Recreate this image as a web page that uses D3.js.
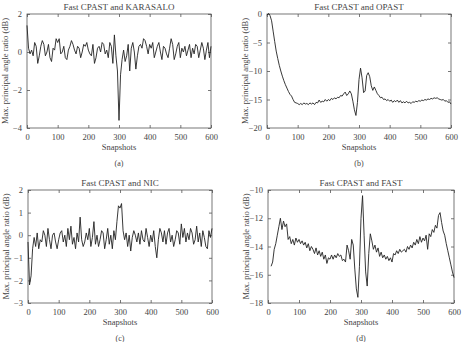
<!DOCTYPE html>
<html>
<head>
<meta charset="utf-8">
<script src="https://cdn.jsdelivr.net/npm/d3@7"></script>
<style>
  body { margin: 0; background: #fff; }
  svg { display: block; font-family: "Liberation Serif", "DejaVu Serif", serif; }
</style>
</head>
<body>
<svg width="462" height="342"></svg>
<script>
// Snapshot values, every 5 snapshots
const karasalo = [1.4,0.2,-0.1,0.1,-0.2,0.5,0.3,-0.6,-0.2,0.3,0.6,0.4,-0.2,0.0,0.4,-0.3,-0.5,0.2,0.1,0.7,
  0.5,0.7,-0.1,0.0,0.3,-0.3,-0.4,0.1,0.3,0.6,0.4,0.1,-0.1,0.3,0.2,-0.3,0.0,0.4,0.3,0.5,
  0.1,-0.1,-0.2,0.4,-0.6,-0.3,0.2,0.3,0.0,0.5,0.4,-0.1,0.1,-0.3,0.5,0.3,-0.6,0.9,-0.2,-1.0,
  -3.6,-1.2,-0.4,0.1,-0.5,-0.2,0.4,-1.0,0.2,0.5,0.0,-0.9,-0.2,0.3,0.4,0.2,0.7,0.6,0.3,-0.1,
  0.4,0.2,0.5,-0.3,0.0,0.3,0.5,0.0,-0.4,0.3,0.2,-0.1,-0.3,0.2,0.7,0.4,-0.4,-0.1,0.3,0.5,
  -0.3,0.2,0.0,0.3,-0.2,0.1,0.4,-0.3,0.2,-0.1,0.4,0.3,-0.3,0.1,0.5,0.2,-0.4,0.1,0.5,-0.3,0.3];

const opast = [-0.2,0.1,-0.3,-1.2,-3.0,-4.8,-6.5,-7.8,-9.0,-10.0,-10.9,-11.7,-12.4,-13.0,-13.6,-14.1,-14.4,-15.0,-15.5,-15.6,
  -15.7,-15.9,-15.7,-15.9,-15.6,-15.8,-15.7,-15.9,-15.6,-15.8,-15.6,-15.9,-15.5,-15.6,-15.1,-15.5,-15.3,-15.4,-15.0,-15.3,
  -15.0,-15.2,-14.8,-15.0,-14.7,-14.9,-14.6,-14.7,-14.3,-14.4,-14.0,-13.7,-14.3,-14.0,-13.5,-14.0,-15.3,-16.8,-17.8,-15.5,
  -11.5,-9.5,-11.2,-13.8,-13.5,-10.8,-10.3,-11.0,-12.6,-13.4,-12.8,-13.4,-14.0,-14.3,-14.7,-14.6,-15.0,-14.9,-15.2,-15.0,
  -15.3,-15.1,-15.5,-15.2,-15.4,-15.1,-15.5,-15.2,-15.6,-15.4,-15.6,-15.3,-15.6,-15.5,-15.7,-15.4,-15.5,-15.3,-15.4,-15.2,
  -15.3,-15.1,-15.2,-15.0,-15.1,-14.9,-15.0,-14.8,-14.9,-14.7,-14.8,-14.7,-14.9,-15.0,-15.1,-15.0,-15.3,-15.2,-15.5,-15.4,-15.8];

const nic = [-0.3,-2.2,-1.8,-0.6,-0.1,-0.5,0.1,-0.6,-0.2,-0.3,0.2,0.0,-0.5,0.3,-0.2,-0.6,0.0,0.1,-0.3,-0.6,
  -0.2,0.1,0.2,-0.3,0.0,-0.5,0.3,-0.2,0.4,-0.4,-0.1,-0.6,0.1,-0.3,0.8,-0.2,-0.5,-0.3,0.1,-0.2,
  0.3,-0.5,-0.1,0.6,-0.4,0.0,-0.5,-0.2,0.2,0.1,-0.6,-0.2,0.3,-0.4,0.0,-0.6,0.2,-0.2,0.6,1.3,
  1.2,1.4,0.2,-0.2,0.1,-0.5,0.0,-0.7,-0.1,0.2,0.0,-0.3,0.1,-0.4,0.2,-0.2,-0.3,0.3,-0.1,-0.5,
  0.0,-0.3,0.2,-0.5,-1.0,-0.2,0.3,0.1,-0.3,0.2,-0.4,0.1,0.3,-0.3,0.0,-0.5,-0.2,0.2,0.1,-0.4,
  0.5,-0.1,0.3,-0.3,0.1,-0.2,0.3,0.1,-0.4,-0.2,0.4,-0.3,0.1,-0.5,0.2,-0.1,-0.5,-0.6,0.2,-0.1,0.3];

// FAST curve starts at snapshot 10
const fast = [-15.4,-15.1,-14.2,-13.8,-13.2,-12.6,-12.0,-12.8,-12.2,-12.6,-12.4,-13.5,-13.3,-13.8,-13.5,-13.9,-13.4,-13.7,
  -13.5,-13.8,-13.6,-13.9,-13.7,-14.1,-13.8,-14.3,-14.0,-14.2,-14.5,-14.1,-14.6,-14.3,-14.7,-14.4,-14.9,-14.6,-15.2,-14.8,
  -14.9,-14.6,-14.9,-14.6,-14.8,-14.5,-14.7,-14.6,-15.0,-14.9,-15.1,-13.9,-14.3,-14.9,-13.5,-13.9,-15.6,-17.0,-17.6,-15.4,
  -12.0,-10.4,-13.2,-15.8,-16.8,-14.5,-13.1,-13.6,-14.2,-13.9,-14.4,-14.1,-14.7,-14.4,-14.8,-14.6,-14.9,-14.7,-15.0,-14.8,
  -15.1,-14.5,-14.6,-14.3,-14.5,-14.2,-14.4,-14.3,-14.2,-14.4,-14.0,-14.2,-13.9,-14.1,-13.7,-13.9,-13.5,-13.8,-13.3,-13.7,
  -13.4,-13.6,-13.2,-14.2,-13.1,-13.3,-12.8,-13.0,-12.5,-12.7,-11.8,-11.6,-12.3,-12.9,-13.2,-13.8,-14.3,-14.8,-15.3,-15.8,-16.2];

const panels = [
  { title: "Fast CPAST and KARASALO", tag: "(a)", values: karasalo, start: 0,
    yDomain: [-4, 2], yTicks: [-4, -2, 0, 2], box: [27, 211, 14, 128] },
  { title: "Fast CPAST and OPAST", tag: "(b)", values: opast, start: 0,
    yDomain: [-20, 0], yTicks: [-20, -15, -10, -5, 0], box: [267, 451, 14, 128] },
  { title: "Fast CPAST and NIC", tag: "(c)", values: nic, start: 0,
    yDomain: [-3, 2], yTicks: [-3, -2, -1, 0, 1, 2], box: [28, 212, 190, 303] },
  { title: "Fast CPAST and FAST", tag: "(d)", values: fast, start: 10,
    yDomain: [-18, -10], yTicks: [-18, -16, -14, -12, -10], box: [268, 454, 190, 303] }
];
const xTicks = [0, 100, 200, 300, 400, 500, 600];
const step = 5;

const svg = d3.select("svg");
const textColor = "#444";
const fmt = d => d3.format("d")(d).replace("-", "\u2212");

panels.forEach(p => {
  const [x0, x1, y0, y1] = p.box;
  const x = d3.scaleLinear().domain([0, 600]).range([x0, x1]);
  const y = d3.scaleLinear().domain(p.yDomain).range([y1, y0]);
  const g = svg.append("g");

  // box frame
  g.append("rect")
    .attr("x", x0).attr("y", y0)
    .attr("width", x1 - x0).attr("height", y1 - y0)
    .attr("fill", "none").attr("stroke", "#555").attr("stroke-width", 0.8);

  const styleAxis = sel => {
    sel.select(".domain").remove();
    sel.selectAll(".tick line").attr("stroke", "#555").attr("stroke-width", 0.8);
    sel.selectAll(".tick text").attr("fill", textColor)
      .style("font-size", "8.5px").style("font-family", "Liberation Serif");
  };

  g.append("g").attr("transform", `translate(0,${y1})`)
    .call(d3.axisBottom(x).tickValues(xTicks).tickSize(-3).tickPadding(6).tickFormat(fmt))
    .call(styleAxis);
  g.append("g").attr("transform", `translate(0,${y0})`)
    .call(d3.axisTop(x).tickValues(xTicks).tickSize(-3).tickFormat(""))
    .call(styleAxis);
  g.append("g").attr("transform", `translate(${x0},0)`)
    .call(d3.axisLeft(y).tickValues(p.yTicks).tickSize(-3).tickPadding(5).tickFormat(fmt))
    .call(styleAxis);
  g.append("g").attr("transform", `translate(${x1},0)`)
    .call(d3.axisRight(y).tickValues(p.yTicks).tickSize(-3).tickFormat(""))
    .call(styleAxis);

  // data line
  const line = d3.line()
    .x((d, i) => x(p.start + i * step))
    .y(d => y(d));
  g.append("path")
    .datum(p.values)
    .attr("d", line)
    .attr("fill", "none")
    .attr("stroke", "#222")
    .attr("stroke-width", 0.9)
    .attr("stroke-linejoin", "round");

  const cx = (x0 + x1) / 2;
  g.append("text").attr("x", cx).attr("y", y0 - 4)
    .attr("text-anchor", "middle").attr("fill", textColor)
    .style("font-size", "9px").text(p.title);
  g.append("text").attr("x", cx).attr("y", y1 + 22)
    .attr("text-anchor", "middle").attr("fill", textColor)
    .style("font-size", "8.5px").text("Snapshots");
  g.append("text").attr("x", cx).attr("y", y1 + 38)
    .attr("text-anchor", "middle").attr("fill", textColor)
    .style("font-size", "8px").text(p.tag);
  g.append("text")
    .attr("transform", `translate(${x0 - 19},${(y0 + y1) / 2}) rotate(-90)`)
    .attr("text-anchor", "middle").attr("fill", textColor)
    .style("font-size", "8.5px").text("Max. principal angle ratio (dB)");
});
</script>
</body>
</html>
